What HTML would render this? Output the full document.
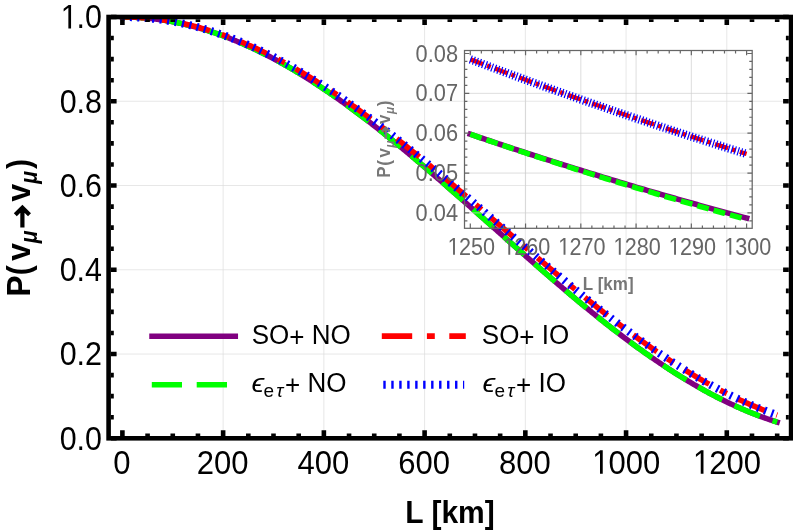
<!DOCTYPE html>
<html><head><meta charset="utf-8"><title>plot</title>
<style>html,body{margin:0;padding:0;background:#fff}svg{display:block;will-change:transform}text{font-family:"Liberation Sans",sans-serif}</style></head>
<body>
<svg width="793" height="531" viewBox="0 0 793 531">
<rect width="793" height="531" fill="#fff"/>
<defs><clipPath id="cm"><rect x="108.60" y="17.00" width="682.50" height="421.30"/></clipPath><clipPath id="ci"><rect x="464.50" y="50.50" width="287.70" height="177.80"/></clipPath></defs>
<path d="M223.13 17.00 V438.30 M323.87 17.00 V438.30 M424.60 17.00 V438.30 M525.34 17.00 V438.30 M626.07 17.00 V438.30 M726.80 17.00 V438.30 M108.60 354.04 H791.10 M108.60 269.78 H791.10 M108.60 185.52 H791.10 M108.60 101.26 H791.10" stroke="#dddddd" stroke-width="0.7" fill="none"/>
<g clip-path="url(#cm)" fill="none">
<path d="M122.40 17.00 L123.41 17.00 L124.41 17.01 L125.42 17.02 L126.43 17.03 L127.44 17.05 L128.44 17.07 L129.45 17.09 L130.46 17.12 L131.47 17.16 L132.47 17.19 L133.48 17.23 L134.49 17.28 L135.50 17.32 L136.50 17.38 L137.51 17.43 L138.52 17.49 L139.52 17.55 L140.53 17.62 L141.54 17.69 L142.55 17.77 L143.55 17.84 L144.56 17.93 L145.57 18.01 L146.58 18.10 L147.58 18.20 L148.59 18.29 L149.60 18.40 L150.61 18.50 L151.61 18.61 L152.62 18.72 L153.63 18.84 L154.63 18.96 L155.64 19.08 L156.65 19.21 L157.66 19.34 L158.66 19.48 L159.67 19.62 L160.68 19.76 L161.69 19.91 L162.69 20.06 L163.70 20.21 L164.71 20.37 L165.72 20.53 L166.72 20.70 L167.73 20.87 L168.74 21.04 L169.74 21.22 L170.75 21.40 L171.76 21.58 L172.77 21.77 L173.77 21.96 L174.78 22.16 L175.79 22.36 L176.80 22.56 L177.80 22.77 L178.81 22.98 L179.82 23.20 L180.83 23.41 L181.83 23.64 L182.84 23.86 L183.85 24.09 L184.86 24.32 L185.86 24.56 L186.87 24.80 L187.88 25.04 L188.88 25.29 L189.89 25.54 L190.90 25.80 L191.91 26.06 L192.91 26.32 L193.92 26.59 L194.93 26.86 L195.94 27.13 L196.94 27.41 L197.95 27.69 L198.96 27.97 L199.97 28.26 L200.97 28.55 L201.98 28.85 L202.99 29.15 L203.99 29.45 L205.00 29.75 L206.01 30.06 L207.02 30.38 L208.02 30.69 L209.03 31.01 L210.04 31.34 L211.05 31.67 L212.05 32.00 L213.06 32.33 L214.07 32.67 L215.08 33.01 L216.08 33.36 L217.09 33.71 L218.10 34.06 L219.10 34.41 L220.11 34.77 L221.12 35.14 L222.13 35.50 L223.13 35.87 L224.14 36.25 L225.15 36.62 L226.16 37.00 L227.16 37.39 L228.17 37.78 L229.18 38.17 L230.19 38.56 L231.19 38.96 L232.20 39.36 L233.21 39.76 L234.21 40.17 L235.22 40.58 L236.23 41.00 L237.24 41.42 L238.24 41.84 L239.25 42.26 L240.26 42.69 L241.27 43.12 L242.27 43.56 L243.28 44.00 L244.29 44.44 L245.30 44.88 L246.30 45.33 L247.31 45.78 L248.32 46.24 L249.32 46.70 L250.33 47.16 L251.34 47.62 L252.35 48.09 L253.35 48.56 L254.36 49.04 L255.37 49.51 L256.38 49.99 L257.38 50.48 L258.39 50.97 L259.40 51.46 L260.41 51.95 L261.41 52.45 L262.42 52.95 L263.43 53.45 L264.43 53.96 L265.44 54.47 L266.45 54.98 L267.46 55.50 L268.46 56.02 L269.47 56.54 L270.48 57.06 L271.49 57.59 L272.49 58.12 L273.50 58.66 L274.51 59.20 L275.52 59.74 L276.52 60.28 L277.53 60.83 L278.54 61.38 L279.55 61.93 L280.55 62.49 L281.56 63.05 L282.57 63.61 L283.57 64.17 L284.58 64.74 L285.59 65.31 L286.60 65.89 L287.60 66.46 L288.61 67.04 L289.62 67.63 L290.63 68.21 L291.63 68.80 L292.64 69.39 L293.65 69.98 L294.66 70.58 L295.66 71.18 L296.67 71.78 L297.68 72.39 L298.68 73.00 L299.69 73.61 L300.70 74.22 L301.71 74.84 L302.71 75.46 L303.72 76.08 L304.73 76.71 L305.74 77.34 L306.74 77.97 L307.75 78.60 L308.76 79.23 L309.77 79.87 L310.77 80.51 L311.78 81.16 L312.79 81.81 L313.79 82.45 L314.80 83.11 L315.81 83.76 L316.82 84.42 L317.82 85.08 L318.83 85.74 L319.84 86.41 L320.85 87.07 L321.85 87.74 L322.86 88.42 L323.87 89.09 L324.88 89.77 L325.88 90.45 L326.89 91.13 L327.90 91.82 L328.90 92.50 L329.91 93.19 L330.92 93.89 L331.93 94.58 L332.93 95.28 L333.94 95.98 L334.95 96.68 L335.96 97.38 L336.96 98.09 L337.97 98.80 L338.98 99.51 L339.99 100.22 L340.99 100.94 L342.00 101.66 L343.01 102.38 L344.01 103.10 L345.02 103.83 L346.03 104.56 L347.04 105.28 L348.04 106.02 L349.05 106.75 L350.06 107.49 L351.07 108.23 L352.07 108.97 L353.08 109.71 L354.09 110.45 L355.10 111.20 L356.10 111.95 L357.11 112.70 L358.12 113.45 L359.12 114.21 L360.13 114.97 L361.14 115.73 L362.15 116.49 L363.15 117.25 L364.16 118.02 L365.17 118.78 L366.18 119.55 L367.18 120.33 L368.19 121.10 L369.20 121.87 L370.21 122.65 L371.21 123.43 L372.22 124.21 L373.23 124.99 L374.24 125.78 L375.24 126.56 L376.25 127.35 L377.26 128.14 L378.26 128.93 L379.27 129.73 L380.28 130.52 L381.29 131.32 L382.29 132.12 L383.30 132.92 L384.31 133.72 L385.32 134.53 L386.32 135.33 L387.33 136.14 L388.34 136.95 L389.35 137.76 L390.35 138.57 L391.36 139.39 L392.37 140.20 L393.37 141.02 L394.38 141.84 L395.39 142.66 L396.40 143.48 L397.40 144.30 L398.41 145.13 L399.42 145.95 L400.43 146.78 L401.43 147.61 L402.44 148.44 L403.45 149.27 L404.46 150.11 L405.46 150.94 L406.47 151.78 L407.48 152.62 L408.48 153.46 L409.49 154.30 L410.50 155.14 L411.51 155.98 L412.51 156.82 L413.52 157.67 L414.53 158.52 L415.54 159.36 L416.54 160.21 L417.55 161.06 L418.56 161.92 L419.57 162.77 L420.57 163.62 L421.58 164.48 L422.59 165.33 L423.59 166.19 L424.60 167.05 L425.61 167.91 L426.62 168.77 L427.62 169.63 L428.63 170.49 L429.64 171.36 L430.65 172.22 L431.65 173.09 L432.66 173.95 L433.67 174.82 L434.68 175.69 L435.68 176.56 L436.69 177.43 L437.70 178.30 L438.70 179.17 L439.71 180.05 L440.72 180.92 L441.73 181.80 L442.73 182.67 L443.74 183.55 L444.75 184.42 L445.76 185.30 L446.76 186.18 L447.77 187.06 L448.78 187.94 L449.79 188.82 L450.79 189.70 L451.80 190.58 L452.81 191.47 L453.81 192.35 L454.82 193.23 L455.83 194.12 L456.84 195.00 L457.84 195.89 L458.85 196.78 L459.86 197.66 L460.87 198.55 L461.87 199.44 L462.88 200.33 L463.89 201.22 L464.90 202.11 L465.90 203.00 L466.91 203.89 L467.92 204.78 L468.92 205.67 L469.93 206.56 L470.94 207.45 L471.95 208.34 L472.95 209.23 L473.96 210.13 L474.97 211.02 L475.98 211.91 L476.98 212.81 L477.99 213.70 L479.00 214.60 L480.01 215.49 L481.01 216.38 L482.02 217.28 L483.03 218.17 L484.04 219.07 L485.04 219.96 L486.05 220.86 L487.06 221.75 L488.06 222.65 L489.07 223.54 L490.08 224.44 L491.09 225.34 L492.09 226.23 L493.10 227.13 L494.11 228.02 L495.12 228.92 L496.12 229.81 L497.13 230.71 L498.14 231.60 L499.15 232.50 L500.15 233.39 L501.16 234.29 L502.17 235.18 L503.17 236.08 L504.18 236.97 L505.19 237.87 L506.20 238.76 L507.20 239.65 L508.21 240.55 L509.22 241.44 L510.23 242.33 L511.23 243.23 L512.24 244.12 L513.25 245.01 L514.26 245.90 L515.26 246.80 L516.27 247.69 L517.28 248.58 L518.28 249.47 L519.29 250.36 L520.30 251.25 L521.31 252.14 L522.31 253.02 L523.32 253.91 L524.33 254.80 L525.34 255.69 L526.34 256.57 L527.35 257.46 L528.36 258.34 L529.37 259.23 L530.37 260.11 L531.38 261.00 L532.39 261.88 L533.39 262.76 L534.40 263.64 L535.41 264.52 L536.42 265.40 L537.42 266.28 L538.43 267.16 L539.44 268.04 L540.45 268.92 L541.45 269.79 L542.46 270.67 L543.47 271.54 L544.48 272.42 L545.48 273.29 L546.49 274.16 L547.50 275.03 L548.50 275.90 L549.51 276.77 L550.52 277.64 L551.53 278.51 L552.53 279.38 L553.54 280.24 L554.55 281.11 L555.56 281.97 L556.56 282.83 L557.57 283.69 L558.58 284.55 L559.59 285.41 L560.59 286.27 L561.60 287.13 L562.61 287.99 L563.61 288.84 L564.62 289.69 L565.63 290.55 L566.64 291.40 L567.64 292.25 L568.65 293.10 L569.66 293.95 L570.67 294.79 L571.67 295.64 L572.68 296.48 L573.69 297.33 L574.70 298.17 L575.70 299.01 L576.71 299.85 L577.72 300.68 L578.73 301.52 L579.73 302.36 L580.74 303.19 L581.75 304.02 L582.75 304.85 L583.76 305.68 L584.77 306.51 L585.78 307.34 L586.78 308.16 L587.79 308.98 L588.80 309.80 L589.81 310.63 L590.81 311.44 L591.82 312.26 L592.83 313.08 L593.84 313.89 L594.84 314.70 L595.85 315.51 L596.86 316.32 L597.86 317.13 L598.87 317.94 L599.88 318.74 L600.89 319.54 L601.89 320.34 L602.90 321.14 L603.91 321.94 L604.92 322.74 L605.92 323.53 L606.93 324.32 L607.94 325.11 L608.95 325.90 L609.95 326.69 L610.96 327.47 L611.97 328.25 L612.97 329.03 L613.98 329.81 L614.99 330.59 L616.00 331.37 L617.00 332.14 L618.01 332.91 L619.02 333.68 L620.03 334.45 L621.03 335.21 L622.04 335.98 L623.05 336.74 L624.06 337.50 L625.06 338.25 L626.07 339.01 L627.08 339.76 L628.08 340.51 L629.09 341.26 L630.10 342.01 L631.11 342.76 L632.11 343.50 L633.12 344.24 L634.13 344.98 L635.14 345.71 L636.14 346.45 L637.15 347.18 L638.16 347.91 L639.17 348.64 L640.17 349.36 L641.18 350.09 L642.19 350.81 L643.19 351.52 L644.20 352.24 L645.21 352.95 L646.22 353.67 L647.22 354.37 L648.23 355.08 L649.24 355.79 L650.25 356.49 L651.25 357.19 L652.26 357.89 L653.27 358.58 L654.28 359.27 L655.28 359.96 L656.29 360.65 L657.30 361.34 L658.30 362.02 L659.31 362.70 L660.32 363.38 L661.33 364.05 L662.33 364.72 L663.34 365.39 L664.35 366.06 L665.36 366.73 L666.36 367.39 L667.37 368.05 L668.38 368.71 L669.39 369.36 L670.39 370.01 L671.40 370.66 L672.41 371.31 L673.41 371.95 L674.42 372.59 L675.43 373.23 L676.44 373.87 L677.44 374.50 L678.45 375.13 L679.46 375.76 L680.47 376.38 L681.47 377.01 L682.48 377.63 L683.49 378.24 L684.50 378.86 L685.50 379.47 L686.51 380.08 L687.52 380.68 L688.53 381.29 L689.53 381.89 L690.54 382.48 L691.55 383.08 L692.55 383.67 L693.56 384.26 L694.57 384.84 L695.58 385.42 L696.58 386.00 L697.59 386.58 L698.60 387.15 L699.61 387.73 L700.61 388.29 L701.62 388.86 L702.63 389.42 L703.64 389.98 L704.64 390.54 L705.65 391.09 L706.66 391.64 L707.66 392.19 L708.67 392.73 L709.68 393.27 L710.69 393.81 L711.69 394.34 L712.70 394.88 L713.71 395.40 L714.72 395.93 L715.72 396.45 L716.73 396.97 L717.74 397.49 L718.75 398.00 L719.75 398.51 L720.76 399.02 L721.77 399.52 L722.77 400.02 L723.78 400.52 L724.79 401.01 L725.80 401.50 L726.80 401.99 L727.81 402.47 L728.82 402.96 L729.83 403.43 L730.83 403.91 L731.84 404.38 L732.85 404.85 L733.86 405.31 L734.86 405.77 L735.87 406.23 L736.88 406.69 L737.88 407.14 L738.89 407.59 L739.90 408.03 L740.91 408.47 L741.91 408.91 L742.92 409.35 L743.93 409.78 L744.94 410.21 L745.94 410.63 L746.95 411.05 L747.96 411.47 L748.97 411.89 L749.97 412.30 L750.98 412.71 L751.99 413.11 L752.99 413.51 L754.00 413.91 L755.01 414.30 L756.02 414.69 L757.02 415.08 L758.03 415.47 L759.04 415.85 L760.05 416.22 L761.05 416.60 L762.06 416.97 L763.07 417.33 L764.08 417.70 L765.08 418.06 L766.09 418.41 L767.10 418.76 L768.10 419.11 L769.11 419.46 L770.12 419.80 L771.13 420.14 L772.13 420.47 L773.14 420.81 L774.15 421.13 L775.16 421.46 L776.16 421.78 L777.17 422.09" stroke="#800080" stroke-width="5.5" stroke-linecap="square"/>
<path d="M122.40 17.00 L123.41 17.00 L124.41 17.01 L125.42 17.02 L126.43 17.03 L127.44 17.05 L128.44 17.07 L129.45 17.09 L130.46 17.12 L131.47 17.16 L132.47 17.19 L133.48 17.23 L134.49 17.28 L135.50 17.32 L136.50 17.38 L137.51 17.43 L138.52 17.49 L139.52 17.55 L140.53 17.62 L141.54 17.69 L142.55 17.77 L143.55 17.84 L144.56 17.93 L145.57 18.01 L146.58 18.10 L147.58 18.20 L148.59 18.29 L149.60 18.40 L150.61 18.50 L151.61 18.61 L152.62 18.72 L153.63 18.84 L154.63 18.96 L155.64 19.08 L156.65 19.21 L157.66 19.34 L158.66 19.48 L159.67 19.62 L160.68 19.76 L161.69 19.91 L162.69 20.06 L163.70 20.21 L164.71 20.37 L165.72 20.53 L166.72 20.70 L167.73 20.87 L168.74 21.04 L169.74 21.22 L170.75 21.40 L171.76 21.58 L172.77 21.77 L173.77 21.96 L174.78 22.16 L175.79 22.36 L176.80 22.56 L177.80 22.77 L178.81 22.98 L179.82 23.20 L180.83 23.41 L181.83 23.64 L182.84 23.86 L183.85 24.09 L184.86 24.32 L185.86 24.56 L186.87 24.80 L187.88 25.04 L188.88 25.29 L189.89 25.54 L190.90 25.80 L191.91 26.06 L192.91 26.32 L193.92 26.59 L194.93 26.86 L195.94 27.13 L196.94 27.41 L197.95 27.69 L198.96 27.97 L199.97 28.26 L200.97 28.55 L201.98 28.85 L202.99 29.15 L203.99 29.45 L205.00 29.75 L206.01 30.06 L207.02 30.38 L208.02 30.69 L209.03 31.01 L210.04 31.34 L211.05 31.67 L212.05 32.00 L213.06 32.33 L214.07 32.67 L215.08 33.01 L216.08 33.36 L217.09 33.71 L218.10 34.06 L219.10 34.41 L220.11 34.77 L221.12 35.14 L222.13 35.50 L223.13 35.87 L224.14 36.25 L225.15 36.62 L226.16 37.00 L227.16 37.39 L228.17 37.78 L229.18 38.17 L230.19 38.56 L231.19 38.96 L232.20 39.36 L233.21 39.76 L234.21 40.17 L235.22 40.58 L236.23 41.00 L237.24 41.42 L238.24 41.84 L239.25 42.26 L240.26 42.69 L241.27 43.12 L242.27 43.56 L243.28 44.00 L244.29 44.44 L245.30 44.88 L246.30 45.33 L247.31 45.78 L248.32 46.24 L249.32 46.70 L250.33 47.16 L251.34 47.62 L252.35 48.09 L253.35 48.56 L254.36 49.04 L255.37 49.51 L256.38 49.99 L257.38 50.48 L258.39 50.97 L259.40 51.46 L260.41 51.95 L261.41 52.45 L262.42 52.95 L263.43 53.45 L264.43 53.96 L265.44 54.47 L266.45 54.98 L267.46 55.50 L268.46 56.02 L269.47 56.54 L270.48 57.06 L271.49 57.59 L272.49 58.12 L273.50 58.66 L274.51 59.20 L275.52 59.74 L276.52 60.28 L277.53 60.83 L278.54 61.38 L279.55 61.93 L280.55 62.49 L281.56 63.05 L282.57 63.61 L283.57 64.17 L284.58 64.74 L285.59 65.31 L286.60 65.89 L287.60 66.46 L288.61 67.04 L289.62 67.63 L290.63 68.21 L291.63 68.80 L292.64 69.39 L293.65 69.98 L294.66 70.58 L295.66 71.18 L296.67 71.78 L297.68 72.39 L298.68 73.00 L299.69 73.61 L300.70 74.22 L301.71 74.84 L302.71 75.46 L303.72 76.08 L304.73 76.71 L305.74 77.34 L306.74 77.97 L307.75 78.60 L308.76 79.23 L309.77 79.87 L310.77 80.51 L311.78 81.16 L312.79 81.81 L313.79 82.45 L314.80 83.11 L315.81 83.76 L316.82 84.42 L317.82 85.08 L318.83 85.74 L319.84 86.41 L320.85 87.07 L321.85 87.74 L322.86 88.42 L323.87 89.09 L324.88 89.77 L325.88 90.45 L326.89 91.13 L327.90 91.82 L328.90 92.50 L329.91 93.19 L330.92 93.89 L331.93 94.58 L332.93 95.28 L333.94 95.98 L334.95 96.68 L335.96 97.38 L336.96 98.09 L337.97 98.80 L338.98 99.51 L339.99 100.22 L340.99 100.94 L342.00 101.66 L343.01 102.38 L344.01 103.10 L345.02 103.83 L346.03 104.56 L347.04 105.28 L348.04 106.02 L349.05 106.75 L350.06 107.49 L351.07 108.23 L352.07 108.97 L353.08 109.71 L354.09 110.45 L355.10 111.20 L356.10 111.95 L357.11 112.70 L358.12 113.45 L359.12 114.21 L360.13 114.97 L361.14 115.73 L362.15 116.49 L363.15 117.25 L364.16 118.02 L365.17 118.78 L366.18 119.55 L367.18 120.33 L368.19 121.10 L369.20 121.87 L370.21 122.65 L371.21 123.43 L372.22 124.21 L373.23 124.99 L374.24 125.78 L375.24 126.56 L376.25 127.35 L377.26 128.14 L378.26 128.93 L379.27 129.73 L380.28 130.52 L381.29 131.32 L382.29 132.12 L383.30 132.92 L384.31 133.72 L385.32 134.53 L386.32 135.33 L387.33 136.14 L388.34 136.95 L389.35 137.76 L390.35 138.57 L391.36 139.39 L392.37 140.20 L393.37 141.02 L394.38 141.84 L395.39 142.66 L396.40 143.48 L397.40 144.30 L398.41 145.13 L399.42 145.95 L400.43 146.78 L401.43 147.61 L402.44 148.44 L403.45 149.27 L404.46 150.11 L405.46 150.94 L406.47 151.78 L407.48 152.62 L408.48 153.46 L409.49 154.30 L410.50 155.14 L411.51 155.98 L412.51 156.82 L413.52 157.67 L414.53 158.52 L415.54 159.36 L416.54 160.21 L417.55 161.06 L418.56 161.92 L419.57 162.77 L420.57 163.62 L421.58 164.48 L422.59 165.33 L423.59 166.19 L424.60 167.05 L425.61 167.91 L426.62 168.77 L427.62 169.63 L428.63 170.49 L429.64 171.36 L430.65 172.22 L431.65 173.09 L432.66 173.95 L433.67 174.82 L434.68 175.69 L435.68 176.56 L436.69 177.43 L437.70 178.30 L438.70 179.17 L439.71 180.05 L440.72 180.92 L441.73 181.80 L442.73 182.67 L443.74 183.55 L444.75 184.42 L445.76 185.30 L446.76 186.18 L447.77 187.06 L448.78 187.94 L449.79 188.82 L450.79 189.70 L451.80 190.58 L452.81 191.47 L453.81 192.35 L454.82 193.23 L455.83 194.12 L456.84 195.00 L457.84 195.89 L458.85 196.78 L459.86 197.66 L460.87 198.55 L461.87 199.44 L462.88 200.33 L463.89 201.22 L464.90 202.11 L465.90 203.00 L466.91 203.89 L467.92 204.78 L468.92 205.67 L469.93 206.56 L470.94 207.45 L471.95 208.34 L472.95 209.23 L473.96 210.13 L474.97 211.02 L475.98 211.91 L476.98 212.81 L477.99 213.70 L479.00 214.60 L480.01 215.49 L481.01 216.38 L482.02 217.28 L483.03 218.17 L484.04 219.07 L485.04 219.96 L486.05 220.86 L487.06 221.75 L488.06 222.65 L489.07 223.54 L490.08 224.44 L491.09 225.34 L492.09 226.23 L493.10 227.13 L494.11 228.02 L495.12 228.92 L496.12 229.81 L497.13 230.71 L498.14 231.60 L499.15 232.50 L500.15 233.39 L501.16 234.29 L502.17 235.18 L503.17 236.08 L504.18 236.97 L505.19 237.87 L506.20 238.76 L507.20 239.65 L508.21 240.55 L509.22 241.44 L510.23 242.33 L511.23 243.23 L512.24 244.12 L513.25 245.01 L514.26 245.90 L515.26 246.80 L516.27 247.69 L517.28 248.58 L518.28 249.47 L519.29 250.36 L520.30 251.25 L521.31 252.14 L522.31 253.02 L523.32 253.91 L524.33 254.80 L525.34 255.69 L526.34 256.57 L527.35 257.46 L528.36 258.34 L529.37 259.23 L530.37 260.11 L531.38 261.00 L532.39 261.88 L533.39 262.76 L534.40 263.64 L535.41 264.52 L536.42 265.40 L537.42 266.28 L538.43 267.16 L539.44 268.04 L540.45 268.92 L541.45 269.79 L542.46 270.67 L543.47 271.54 L544.48 272.42 L545.48 273.29 L546.49 274.16 L547.50 275.03 L548.50 275.90 L549.51 276.77 L550.52 277.64 L551.53 278.51 L552.53 279.38 L553.54 280.24 L554.55 281.11 L555.56 281.97 L556.56 282.83 L557.57 283.69 L558.58 284.55 L559.59 285.41 L560.59 286.27 L561.60 287.13 L562.61 287.99 L563.61 288.84 L564.62 289.69 L565.63 290.55 L566.64 291.40 L567.64 292.25 L568.65 293.10 L569.66 293.95 L570.67 294.79 L571.67 295.64 L572.68 296.48 L573.69 297.33 L574.70 298.17 L575.70 299.01 L576.71 299.85 L577.72 300.68 L578.73 301.52 L579.73 302.36 L580.74 303.19 L581.75 304.02 L582.75 304.85 L583.76 305.68 L584.77 306.51 L585.78 307.34 L586.78 308.16 L587.79 308.98 L588.80 309.80 L589.81 310.63 L590.81 311.44 L591.82 312.26 L592.83 313.08 L593.84 313.89 L594.84 314.70 L595.85 315.51 L596.86 316.32 L597.86 317.13 L598.87 317.94 L599.88 318.74 L600.89 319.54 L601.89 320.34 L602.90 321.14 L603.91 321.94 L604.92 322.74 L605.92 323.53 L606.93 324.32 L607.94 325.11 L608.95 325.90 L609.95 326.69 L610.96 327.47 L611.97 328.25 L612.97 329.03 L613.98 329.81 L614.99 330.59 L616.00 331.37 L617.00 332.14 L618.01 332.91 L619.02 333.68 L620.03 334.45 L621.03 335.21 L622.04 335.98 L623.05 336.74 L624.06 337.50 L625.06 338.25 L626.07 339.01 L627.08 339.76 L628.08 340.51 L629.09 341.26 L630.10 342.01 L631.11 342.76 L632.11 343.50 L633.12 344.24 L634.13 344.98 L635.14 345.71 L636.14 346.45 L637.15 347.18 L638.16 347.91 L639.17 348.64 L640.17 349.36 L641.18 350.09 L642.19 350.81 L643.19 351.52 L644.20 352.24 L645.21 352.95 L646.22 353.67 L647.22 354.37 L648.23 355.08 L649.24 355.79 L650.25 356.49 L651.25 357.19 L652.26 357.89 L653.27 358.58 L654.28 359.27 L655.28 359.96 L656.29 360.65 L657.30 361.34 L658.30 362.02 L659.31 362.70 L660.32 363.38 L661.33 364.05 L662.33 364.72 L663.34 365.39 L664.35 366.06 L665.36 366.73 L666.36 367.39 L667.37 368.05 L668.38 368.71 L669.39 369.36 L670.39 370.01 L671.40 370.66 L672.41 371.31 L673.41 371.95 L674.42 372.59 L675.43 373.23 L676.44 373.87 L677.44 374.50 L678.45 375.13 L679.46 375.76 L680.47 376.38 L681.47 377.01 L682.48 377.63 L683.49 378.24 L684.50 378.86 L685.50 379.47 L686.51 380.08 L687.52 380.68 L688.53 381.29 L689.53 381.89 L690.54 382.48 L691.55 383.08 L692.55 383.67 L693.56 384.26 L694.57 384.84 L695.58 385.42 L696.58 386.00 L697.59 386.58 L698.60 387.15 L699.61 387.73 L700.61 388.29 L701.62 388.86 L702.63 389.42 L703.64 389.98 L704.64 390.54 L705.65 391.09 L706.66 391.64 L707.66 392.19 L708.67 392.73 L709.68 393.27 L710.69 393.81 L711.69 394.34 L712.70 394.88 L713.71 395.40 L714.72 395.93 L715.72 396.45 L716.73 396.97 L717.74 397.49 L718.75 398.00 L719.75 398.51 L720.76 399.02 L721.77 399.52 L722.77 400.02 L723.78 400.52 L724.79 401.01 L725.80 401.50 L726.80 401.99 L727.81 402.47 L728.82 402.96 L729.83 403.43 L730.83 403.91 L731.84 404.38 L732.85 404.85 L733.86 405.31 L734.86 405.77 L735.87 406.23 L736.88 406.69 L737.88 407.14 L738.89 407.59 L739.90 408.03 L740.91 408.47 L741.91 408.91 L742.92 409.35 L743.93 409.78 L744.94 410.21 L745.94 410.63 L746.95 411.05 L747.96 411.47 L748.97 411.89 L749.97 412.30 L750.98 412.71 L751.99 413.11 L752.99 413.51 L754.00 413.91 L755.01 414.30 L756.02 414.69 L757.02 415.08 L758.03 415.47 L759.04 415.85 L760.05 416.22 L761.05 416.60 L762.06 416.97 L763.07 417.33 L764.08 417.70 L765.08 418.06 L766.09 418.41 L767.10 418.76 L768.10 419.11 L769.11 419.46 L770.12 419.80 L771.13 420.14 L772.13 420.47 L773.14 420.81 L774.15 421.13 L775.16 421.46 L776.16 421.78 L777.17 422.09" stroke="#00ff00" stroke-width="5.5" stroke-dasharray="27.5 13.5" stroke-dashoffset="0.9"/>
<path d="M122.40 17.00 L123.41 17.00 L124.41 17.01 L125.42 17.02 L126.43 17.03 L127.44 17.05 L128.44 17.07 L129.45 17.09 L130.46 17.12 L131.47 17.15 L132.47 17.18 L133.48 17.22 L134.49 17.26 L135.50 17.31 L136.50 17.36 L137.51 17.41 L138.52 17.47 L139.52 17.53 L140.53 17.59 L141.54 17.66 L142.55 17.73 L143.55 17.81 L144.56 17.89 L145.57 17.97 L146.58 18.05 L147.58 18.14 L148.59 18.24 L149.60 18.33 L150.61 18.43 L151.61 18.54 L152.62 18.65 L153.63 18.76 L154.63 18.87 L155.64 18.99 L156.65 19.11 L157.66 19.24 L158.66 19.37 L159.67 19.50 L160.68 19.64 L161.69 19.78 L162.69 19.92 L163.70 20.07 L164.71 20.22 L165.72 20.38 L166.72 20.54 L167.73 20.70 L168.74 20.86 L169.74 21.03 L170.75 21.21 L171.76 21.38 L172.77 21.56 L173.77 21.75 L174.78 21.93 L175.79 22.12 L176.80 22.32 L177.80 22.52 L178.81 22.72 L179.82 22.92 L180.83 23.13 L181.83 23.34 L182.84 23.56 L183.85 23.78 L184.86 24.00 L185.86 24.23 L186.87 24.46 L187.88 24.69 L188.88 24.93 L189.89 25.17 L190.90 25.41 L191.91 25.66 L192.91 25.91 L193.92 26.17 L194.93 26.42 L195.94 26.69 L196.94 26.95 L197.95 27.22 L198.96 27.49 L199.97 27.77 L200.97 28.05 L201.98 28.33 L202.99 28.61 L203.99 28.90 L205.00 29.20 L206.01 29.49 L207.02 29.79 L208.02 30.10 L209.03 30.40 L210.04 30.71 L211.05 31.03 L212.05 31.34 L213.06 31.66 L214.07 31.99 L215.08 32.31 L216.08 32.64 L217.09 32.98 L218.10 33.31 L219.10 33.66 L220.11 34.00 L221.12 34.35 L222.13 34.70 L223.13 35.05 L224.14 35.41 L225.15 35.77 L226.16 36.13 L227.16 36.50 L228.17 36.87 L229.18 37.25 L230.19 37.62 L231.19 38.00 L232.20 38.39 L233.21 38.77 L234.21 39.17 L235.22 39.56 L236.23 39.96 L237.24 40.36 L238.24 40.76 L239.25 41.17 L240.26 41.58 L241.27 41.99 L242.27 42.41 L243.28 42.83 L244.29 43.25 L245.30 43.67 L246.30 44.10 L247.31 44.54 L248.32 44.97 L249.32 45.41 L250.33 45.85 L251.34 46.30 L252.35 46.75 L253.35 47.20 L254.36 47.65 L255.37 48.11 L256.38 48.57 L257.38 49.03 L258.39 49.50 L259.40 49.97 L260.41 50.45 L261.41 50.92 L262.42 51.40 L263.43 51.88 L264.43 52.37 L265.44 52.86 L266.45 53.35 L267.46 53.84 L268.46 54.34 L269.47 54.84 L270.48 55.34 L271.49 55.85 L272.49 56.36 L273.50 56.87 L274.51 57.39 L275.52 57.91 L276.52 58.43 L277.53 58.95 L278.54 59.48 L279.55 60.01 L280.55 60.54 L281.56 61.08 L282.57 61.62 L283.57 62.16 L284.58 62.70 L285.59 63.25 L286.60 63.80 L287.60 64.35 L288.61 64.91 L289.62 65.47 L290.63 66.03 L291.63 66.59 L292.64 67.16 L293.65 67.73 L294.66 68.30 L295.66 68.88 L296.67 69.46 L297.68 70.04 L298.68 70.62 L299.69 71.21 L300.70 71.80 L301.71 72.39 L302.71 72.98 L303.72 73.58 L304.73 74.18 L305.74 74.78 L306.74 75.39 L307.75 76.00 L308.76 76.61 L309.77 77.22 L310.77 77.83 L311.78 78.45 L312.79 79.07 L313.79 79.70 L314.80 80.32 L315.81 80.95 L316.82 81.58 L317.82 82.22 L318.83 82.85 L319.84 83.49 L320.85 84.13 L321.85 84.77 L322.86 85.42 L323.87 86.07 L324.88 86.72 L325.88 87.37 L326.89 88.03 L327.90 88.69 L328.90 89.35 L329.91 90.01 L330.92 90.67 L331.93 91.34 L332.93 92.01 L333.94 92.68 L334.95 93.36 L335.96 94.04 L336.96 94.72 L337.97 95.40 L338.98 96.08 L339.99 96.77 L340.99 97.46 L342.00 98.15 L343.01 98.84 L344.01 99.53 L345.02 100.23 L346.03 100.93 L347.04 101.63 L348.04 102.34 L349.05 103.04 L350.06 103.75 L351.07 104.46 L352.07 105.17 L353.08 105.89 L354.09 106.60 L355.10 107.32 L356.10 108.04 L357.11 108.77 L358.12 109.49 L359.12 110.22 L360.13 110.95 L361.14 111.68 L362.15 112.41 L363.15 113.14 L364.16 113.88 L365.17 114.62 L366.18 115.36 L367.18 116.10 L368.19 116.85 L369.20 117.59 L370.21 118.34 L371.21 119.09 L372.22 119.85 L373.23 120.60 L374.24 121.35 L375.24 122.11 L376.25 122.87 L377.26 123.63 L378.26 124.40 L379.27 125.16 L380.28 125.93 L381.29 126.70 L382.29 127.47 L383.30 128.24 L384.31 129.01 L385.32 129.79 L386.32 130.56 L387.33 131.34 L388.34 132.12 L389.35 132.90 L390.35 133.69 L391.36 134.47 L392.37 135.26 L393.37 136.05 L394.38 136.84 L395.39 137.63 L396.40 138.42 L397.40 139.21 L398.41 140.01 L399.42 140.81 L400.43 141.61 L401.43 142.41 L402.44 143.21 L403.45 144.01 L404.46 144.81 L405.46 145.62 L406.47 146.43 L407.48 147.24 L408.48 148.05 L409.49 148.86 L410.50 149.67 L411.51 150.49 L412.51 151.30 L413.52 152.12 L414.53 152.94 L415.54 153.75 L416.54 154.58 L417.55 155.40 L418.56 156.22 L419.57 157.04 L420.57 157.87 L421.58 158.70 L422.59 159.52 L423.59 160.35 L424.60 161.18 L425.61 162.01 L426.62 162.85 L427.62 163.68 L428.63 164.51 L429.64 165.35 L430.65 166.19 L431.65 167.02 L432.66 167.86 L433.67 168.70 L434.68 169.54 L435.68 170.38 L436.69 171.23 L437.70 172.07 L438.70 172.91 L439.71 173.76 L440.72 174.60 L441.73 175.45 L442.73 176.30 L443.74 177.15 L444.75 178.00 L445.76 178.85 L446.76 179.70 L447.77 180.55 L448.78 181.40 L449.79 182.26 L450.79 183.11 L451.80 183.97 L452.81 184.82 L453.81 185.68 L454.82 186.54 L455.83 187.39 L456.84 188.25 L457.84 189.11 L458.85 189.97 L459.86 190.83 L460.87 191.69 L461.87 192.55 L462.88 193.42 L463.89 194.28 L464.90 195.14 L465.90 196.01 L466.91 196.87 L467.92 197.74 L468.92 198.60 L469.93 199.47 L470.94 200.33 L471.95 201.20 L472.95 202.07 L473.96 202.93 L474.97 203.80 L475.98 204.67 L476.98 205.54 L477.99 206.41 L479.00 207.28 L480.01 208.14 L481.01 209.01 L482.02 209.88 L483.03 210.75 L484.04 211.63 L485.04 212.50 L486.05 213.37 L487.06 214.24 L488.06 215.11 L489.07 215.98 L490.08 216.85 L491.09 217.72 L492.09 218.60 L493.10 219.47 L494.11 220.34 L495.12 221.21 L496.12 222.08 L497.13 222.96 L498.14 223.83 L499.15 224.70 L500.15 225.57 L501.16 226.45 L502.17 227.32 L503.17 228.19 L504.18 229.06 L505.19 229.94 L506.20 230.81 L507.20 231.68 L508.21 232.55 L509.22 233.42 L510.23 234.29 L511.23 235.17 L512.24 236.04 L513.25 236.91 L514.26 237.78 L515.26 238.65 L516.27 239.52 L517.28 240.39 L518.28 241.26 L519.29 242.13 L520.30 243.00 L521.31 243.87 L522.31 244.73 L523.32 245.60 L524.33 246.47 L525.34 247.34 L526.34 248.20 L527.35 249.07 L528.36 249.94 L529.37 250.80 L530.37 251.67 L531.38 252.53 L532.39 253.40 L533.39 254.26 L534.40 255.12 L535.41 255.99 L536.42 256.85 L537.42 257.71 L538.43 258.57 L539.44 259.43 L540.45 260.29 L541.45 261.15 L542.46 262.01 L543.47 262.87 L544.48 263.72 L545.48 264.58 L546.49 265.44 L547.50 266.29 L548.50 267.15 L549.51 268.00 L550.52 268.85 L551.53 269.70 L552.53 270.55 L553.54 271.41 L554.55 272.25 L555.56 273.10 L556.56 273.95 L557.57 274.80 L558.58 275.64 L559.59 276.49 L560.59 277.33 L561.60 278.18 L562.61 279.02 L563.61 279.86 L564.62 280.70 L565.63 281.54 L566.64 282.38 L567.64 283.22 L568.65 284.05 L569.66 284.89 L570.67 285.72 L571.67 286.56 L572.68 287.39 L573.69 288.22 L574.70 289.05 L575.70 289.88 L576.71 290.71 L577.72 291.53 L578.73 292.36 L579.73 293.18 L580.74 294.01 L581.75 294.83 L582.75 295.65 L583.76 296.47 L584.77 297.29 L585.78 298.10 L586.78 298.92 L587.79 299.73 L588.80 300.54 L589.81 301.36 L590.81 302.17 L591.82 302.97 L592.83 303.78 L593.84 304.59 L594.84 305.39 L595.85 306.20 L596.86 307.00 L597.86 307.80 L598.87 308.60 L599.88 309.39 L600.89 310.19 L601.89 310.98 L602.90 311.78 L603.91 312.57 L604.92 313.36 L605.92 314.15 L606.93 314.93 L607.94 315.72 L608.95 316.50 L609.95 317.28 L610.96 318.06 L611.97 318.84 L612.97 319.62 L613.98 320.39 L614.99 321.17 L616.00 321.94 L617.00 322.71 L618.01 323.48 L619.02 324.24 L620.03 325.01 L621.03 325.77 L622.04 326.53 L623.05 327.29 L624.06 328.05 L625.06 328.80 L626.07 329.56 L627.08 330.31 L628.08 331.06 L629.09 331.81 L630.10 332.56 L631.11 333.30 L632.11 334.04 L633.12 334.78 L634.13 335.52 L635.14 336.26 L636.14 336.99 L637.15 337.73 L638.16 338.46 L639.17 339.19 L640.17 339.91 L641.18 340.64 L642.19 341.36 L643.19 342.08 L644.20 342.80 L645.21 343.52 L646.22 344.23 L647.22 344.94 L648.23 345.65 L649.24 346.36 L650.25 347.07 L651.25 347.77 L652.26 348.47 L653.27 349.17 L654.28 349.87 L655.28 350.56 L656.29 351.26 L657.30 351.95 L658.30 352.64 L659.31 353.32 L660.32 354.01 L661.33 354.69 L662.33 355.37 L663.34 356.04 L664.35 356.72 L665.36 357.39 L666.36 358.06 L667.37 358.73 L668.38 359.39 L669.39 360.06 L670.39 360.72 L671.40 361.37 L672.41 362.03 L673.41 362.68 L674.42 363.33 L675.43 363.98 L676.44 364.63 L677.44 365.27 L678.45 365.91 L679.46 366.55 L680.47 367.19 L681.47 367.82 L682.48 368.45 L683.49 369.08 L684.50 369.71 L685.50 370.33 L686.51 370.95 L687.52 371.57 L688.53 372.18 L689.53 372.80 L690.54 373.41 L691.55 374.01 L692.55 374.62 L693.56 375.22 L694.57 375.82 L695.58 376.42 L696.58 377.01 L697.59 377.61 L698.60 378.19 L699.61 378.78 L700.61 379.36 L701.62 379.95 L702.63 380.52 L703.64 381.10 L704.64 381.67 L705.65 382.24 L706.66 382.81 L707.66 383.37 L708.67 383.93 L709.68 384.49 L710.69 385.05 L711.69 385.60 L712.70 386.15 L713.71 386.70 L714.72 387.24 L715.72 387.79 L716.73 388.32 L717.74 388.86 L718.75 389.39 L719.75 389.92 L720.76 390.45 L721.77 390.97 L722.77 391.50 L723.78 392.01 L724.79 392.53 L725.80 393.04 L726.80 393.55 L727.81 394.06 L728.82 394.56 L729.83 395.06 L730.83 395.56 L731.84 396.05 L732.85 396.55 L733.86 397.03 L734.86 397.52 L735.87 398.00 L736.88 398.48 L737.88 398.96 L738.89 399.43 L739.90 399.90 L740.91 400.37 L741.91 400.83 L742.92 401.29 L743.93 401.75 L744.94 402.20 L745.94 402.66 L746.95 403.10 L747.96 403.55 L748.97 403.99 L749.97 404.43 L750.98 404.87 L751.99 405.30 L752.99 405.73 L754.00 406.15 L755.01 406.58 L756.02 407.00 L757.02 407.41 L758.03 407.83 L759.04 408.24 L760.05 408.64 L761.05 409.05 L762.06 409.45 L763.07 409.84 L764.08 410.24 L765.08 410.63 L766.09 411.01 L767.10 411.40 L768.10 411.78 L769.11 412.16 L770.12 412.53 L771.13 412.90 L772.13 413.27 L773.14 413.63 L774.15 413.99 L775.16 414.35 L776.16 414.70 L777.17 415.06" stroke="#ff0000" stroke-width="5.5" stroke-dasharray="29 12.5 7.5 12.5" stroke-dashoffset="1.6"/>
<path d="M122.40 17.00 L123.41 17.00 L124.41 17.01 L125.42 17.02 L126.43 17.03 L127.44 17.05 L128.44 17.07 L129.45 17.09 L130.46 17.12 L131.47 17.15 L132.47 17.18 L133.48 17.22 L134.49 17.26 L135.50 17.31 L136.50 17.36 L137.51 17.41 L138.52 17.47 L139.52 17.53 L140.53 17.59 L141.54 17.66 L142.55 17.73 L143.55 17.81 L144.56 17.89 L145.57 17.97 L146.58 18.05 L147.58 18.14 L148.59 18.24 L149.60 18.33 L150.61 18.43 L151.61 18.54 L152.62 18.65 L153.63 18.76 L154.63 18.87 L155.64 18.99 L156.65 19.11 L157.66 19.24 L158.66 19.37 L159.67 19.50 L160.68 19.64 L161.69 19.78 L162.69 19.92 L163.70 20.07 L164.71 20.22 L165.72 20.38 L166.72 20.54 L167.73 20.70 L168.74 20.86 L169.74 21.03 L170.75 21.21 L171.76 21.38 L172.77 21.56 L173.77 21.75 L174.78 21.93 L175.79 22.12 L176.80 22.32 L177.80 22.52 L178.81 22.72 L179.82 22.92 L180.83 23.13 L181.83 23.34 L182.84 23.56 L183.85 23.78 L184.86 24.00 L185.86 24.23 L186.87 24.46 L187.88 24.69 L188.88 24.93 L189.89 25.17 L190.90 25.41 L191.91 25.66 L192.91 25.91 L193.92 26.17 L194.93 26.42 L195.94 26.69 L196.94 26.95 L197.95 27.22 L198.96 27.49 L199.97 27.77 L200.97 28.05 L201.98 28.33 L202.99 28.61 L203.99 28.90 L205.00 29.20 L206.01 29.49 L207.02 29.79 L208.02 30.10 L209.03 30.40 L210.04 30.71 L211.05 31.03 L212.05 31.34 L213.06 31.66 L214.07 31.99 L215.08 32.31 L216.08 32.64 L217.09 32.98 L218.10 33.31 L219.10 33.66 L220.11 34.00 L221.12 34.35 L222.13 34.70 L223.13 35.05 L224.14 35.41 L225.15 35.77 L226.16 36.13 L227.16 36.50 L228.17 36.87 L229.18 37.25 L230.19 37.62 L231.19 38.00 L232.20 38.39 L233.21 38.77 L234.21 39.17 L235.22 39.56 L236.23 39.96 L237.24 40.36 L238.24 40.76 L239.25 41.17 L240.26 41.58 L241.27 41.99 L242.27 42.41 L243.28 42.83 L244.29 43.25 L245.30 43.67 L246.30 44.10 L247.31 44.54 L248.32 44.97 L249.32 45.41 L250.33 45.85 L251.34 46.30 L252.35 46.75 L253.35 47.20 L254.36 47.65 L255.37 48.11 L256.38 48.57 L257.38 49.03 L258.39 49.50 L259.40 49.97 L260.41 50.45 L261.41 50.92 L262.42 51.40 L263.43 51.88 L264.43 52.37 L265.44 52.86 L266.45 53.35 L267.46 53.84 L268.46 54.34 L269.47 54.84 L270.48 55.34 L271.49 55.85 L272.49 56.36 L273.50 56.87 L274.51 57.39 L275.52 57.91 L276.52 58.43 L277.53 58.95 L278.54 59.48 L279.55 60.01 L280.55 60.54 L281.56 61.08 L282.57 61.62 L283.57 62.16 L284.58 62.70 L285.59 63.25 L286.60 63.80 L287.60 64.35 L288.61 64.91 L289.62 65.47 L290.63 66.03 L291.63 66.59 L292.64 67.16 L293.65 67.73 L294.66 68.30 L295.66 68.88 L296.67 69.46 L297.68 70.04 L298.68 70.62 L299.69 71.21 L300.70 71.80 L301.71 72.39 L302.71 72.98 L303.72 73.58 L304.73 74.18 L305.74 74.78 L306.74 75.39 L307.75 76.00 L308.76 76.61 L309.77 77.22 L310.77 77.83 L311.78 78.45 L312.79 79.07 L313.79 79.70 L314.80 80.32 L315.81 80.95 L316.82 81.58 L317.82 82.22 L318.83 82.85 L319.84 83.49 L320.85 84.13 L321.85 84.77 L322.86 85.42 L323.87 86.07 L324.88 86.72 L325.88 87.37 L326.89 88.03 L327.90 88.69 L328.90 89.35 L329.91 90.01 L330.92 90.67 L331.93 91.34 L332.93 92.01 L333.94 92.68 L334.95 93.36 L335.96 94.04 L336.96 94.72 L337.97 95.40 L338.98 96.08 L339.99 96.77 L340.99 97.46 L342.00 98.15 L343.01 98.84 L344.01 99.53 L345.02 100.23 L346.03 100.93 L347.04 101.63 L348.04 102.34 L349.05 103.04 L350.06 103.75 L351.07 104.46 L352.07 105.17 L353.08 105.89 L354.09 106.60 L355.10 107.32 L356.10 108.04 L357.11 108.77 L358.12 109.49 L359.12 110.22 L360.13 110.95 L361.14 111.68 L362.15 112.41 L363.15 113.14 L364.16 113.88 L365.17 114.62 L366.18 115.36 L367.18 116.10 L368.19 116.85 L369.20 117.59 L370.21 118.34 L371.21 119.09 L372.22 119.85 L373.23 120.60 L374.24 121.35 L375.24 122.11 L376.25 122.87 L377.26 123.63 L378.26 124.40 L379.27 125.16 L380.28 125.93 L381.29 126.70 L382.29 127.47 L383.30 128.24 L384.31 129.01 L385.32 129.79 L386.32 130.56 L387.33 131.34 L388.34 132.12 L389.35 132.90 L390.35 133.69 L391.36 134.47 L392.37 135.26 L393.37 136.05 L394.38 136.84 L395.39 137.63 L396.40 138.42 L397.40 139.21 L398.41 140.01 L399.42 140.81 L400.43 141.61 L401.43 142.41 L402.44 143.21 L403.45 144.01 L404.46 144.81 L405.46 145.62 L406.47 146.43 L407.48 147.24 L408.48 148.05 L409.49 148.86 L410.50 149.67 L411.51 150.49 L412.51 151.30 L413.52 152.12 L414.53 152.94 L415.54 153.75 L416.54 154.58 L417.55 155.40 L418.56 156.22 L419.57 157.04 L420.57 157.87 L421.58 158.70 L422.59 159.52 L423.59 160.35 L424.60 161.18 L425.61 162.01 L426.62 162.85 L427.62 163.68 L428.63 164.51 L429.64 165.35 L430.65 166.19 L431.65 167.02 L432.66 167.86 L433.67 168.70 L434.68 169.54 L435.68 170.38 L436.69 171.23 L437.70 172.07 L438.70 172.91 L439.71 173.76 L440.72 174.60 L441.73 175.45 L442.73 176.30 L443.74 177.15 L444.75 178.00 L445.76 178.85 L446.76 179.70 L447.77 180.55 L448.78 181.40 L449.79 182.26 L450.79 183.11 L451.80 183.97 L452.81 184.82 L453.81 185.68 L454.82 186.54 L455.83 187.39 L456.84 188.25 L457.84 189.11 L458.85 189.97 L459.86 190.83 L460.87 191.69 L461.87 192.55 L462.88 193.42 L463.89 194.28 L464.90 195.14 L465.90 196.01 L466.91 196.87 L467.92 197.74 L468.92 198.60 L469.93 199.47 L470.94 200.33 L471.95 201.20 L472.95 202.07 L473.96 202.93 L474.97 203.80 L475.98 204.67 L476.98 205.54 L477.99 206.41 L479.00 207.28 L480.01 208.14 L481.01 209.01 L482.02 209.88 L483.03 210.75 L484.04 211.63 L485.04 212.50 L486.05 213.37 L487.06 214.24 L488.06 215.11 L489.07 215.98 L490.08 216.85 L491.09 217.72 L492.09 218.60 L493.10 219.47 L494.11 220.34 L495.12 221.21 L496.12 222.08 L497.13 222.96 L498.14 223.83 L499.15 224.70 L500.15 225.57 L501.16 226.45 L502.17 227.32 L503.17 228.19 L504.18 229.06 L505.19 229.94 L506.20 230.81 L507.20 231.68 L508.21 232.55 L509.22 233.42 L510.23 234.29 L511.23 235.17 L512.24 236.04 L513.25 236.91 L514.26 237.78 L515.26 238.65 L516.27 239.52 L517.28 240.39 L518.28 241.26 L519.29 242.13 L520.30 243.00 L521.31 243.87 L522.31 244.73 L523.32 245.60 L524.33 246.47 L525.34 247.34 L526.34 248.20 L527.35 249.07 L528.36 249.94 L529.37 250.80 L530.37 251.67 L531.38 252.53 L532.39 253.40 L533.39 254.26 L534.40 255.12 L535.41 255.99 L536.42 256.85 L537.42 257.71 L538.43 258.57 L539.44 259.43 L540.45 260.29 L541.45 261.15 L542.46 262.01 L543.47 262.87 L544.48 263.72 L545.48 264.58 L546.49 265.44 L547.50 266.29 L548.50 267.15 L549.51 268.00 L550.52 268.85 L551.53 269.70 L552.53 270.55 L553.54 271.41 L554.55 272.25 L555.56 273.10 L556.56 273.95 L557.57 274.80 L558.58 275.64 L559.59 276.49 L560.59 277.33 L561.60 278.18 L562.61 279.02 L563.61 279.86 L564.62 280.70 L565.63 281.54 L566.64 282.38 L567.64 283.22 L568.65 284.05 L569.66 284.89 L570.67 285.72 L571.67 286.56 L572.68 287.39 L573.69 288.22 L574.70 289.05 L575.70 289.88 L576.71 290.71 L577.72 291.53 L578.73 292.36 L579.73 293.18 L580.74 294.01 L581.75 294.83 L582.75 295.65 L583.76 296.47 L584.77 297.29 L585.78 298.10 L586.78 298.92 L587.79 299.73 L588.80 300.54 L589.81 301.36 L590.81 302.17 L591.82 302.97 L592.83 303.78 L593.84 304.59 L594.84 305.39 L595.85 306.20 L596.86 307.00 L597.86 307.80 L598.87 308.60 L599.88 309.39 L600.89 310.19 L601.89 310.98 L602.90 311.78 L603.91 312.57 L604.92 313.36 L605.92 314.15 L606.93 314.93 L607.94 315.72 L608.95 316.50 L609.95 317.28 L610.96 318.06 L611.97 318.84 L612.97 319.62 L613.98 320.39 L614.99 321.17 L616.00 321.94 L617.00 322.71 L618.01 323.48 L619.02 324.24 L620.03 325.01 L621.03 325.77 L622.04 326.53 L623.05 327.29 L624.06 328.05 L625.06 328.80 L626.07 329.56 L627.08 330.31 L628.08 331.06 L629.09 331.81 L630.10 332.56 L631.11 333.30 L632.11 334.04 L633.12 334.78 L634.13 335.52 L635.14 336.26 L636.14 336.99 L637.15 337.73 L638.16 338.46 L639.17 339.19 L640.17 339.91 L641.18 340.64 L642.19 341.36 L643.19 342.08 L644.20 342.80 L645.21 343.52 L646.22 344.23 L647.22 344.94 L648.23 345.65 L649.24 346.36 L650.25 347.07 L651.25 347.77 L652.26 348.47 L653.27 349.17 L654.28 349.87 L655.28 350.56 L656.29 351.26 L657.30 351.95 L658.30 352.64 L659.31 353.32 L660.32 354.01 L661.33 354.69 L662.33 355.37 L663.34 356.04 L664.35 356.72 L665.36 357.39 L666.36 358.06 L667.37 358.73 L668.38 359.39 L669.39 360.06 L670.39 360.72 L671.40 361.37 L672.41 362.03 L673.41 362.68 L674.42 363.33 L675.43 363.98 L676.44 364.63 L677.44 365.27 L678.45 365.91 L679.46 366.55 L680.47 367.19 L681.47 367.82 L682.48 368.45 L683.49 369.08 L684.50 369.71 L685.50 370.33 L686.51 370.95 L687.52 371.57 L688.53 372.18 L689.53 372.80 L690.54 373.41 L691.55 374.01 L692.55 374.62 L693.56 375.22 L694.57 375.82 L695.58 376.42 L696.58 377.01 L697.59 377.61 L698.60 378.19 L699.61 378.78 L700.61 379.36 L701.62 379.95 L702.63 380.52 L703.64 381.10 L704.64 381.67 L705.65 382.24 L706.66 382.81 L707.66 383.37 L708.67 383.93 L709.68 384.49 L710.69 385.05 L711.69 385.60 L712.70 386.15 L713.71 386.70 L714.72 387.24 L715.72 387.79 L716.73 388.32 L717.74 388.86 L718.75 389.39 L719.75 389.92 L720.76 390.45 L721.77 390.97 L722.77 391.50 L723.78 392.01 L724.79 392.53 L725.80 393.04 L726.80 393.55 L727.81 394.06 L728.82 394.56 L729.83 395.06 L730.83 395.56 L731.84 396.05 L732.85 396.55 L733.86 397.03 L734.86 397.52 L735.87 398.00 L736.88 398.48 L737.88 398.96 L738.89 399.43 L739.90 399.90 L740.91 400.37 L741.91 400.83 L742.92 401.29 L743.93 401.75 L744.94 402.20 L745.94 402.66 L746.95 403.10 L747.96 403.55 L748.97 403.99 L749.97 404.43 L750.98 404.87 L751.99 405.30 L752.99 405.73 L754.00 406.15 L755.01 406.58 L756.02 407.00 L757.02 407.41 L758.03 407.83 L759.04 408.24 L760.05 408.64 L761.05 409.05 L762.06 409.45 L763.07 409.84 L764.08 410.24 L765.08 410.63 L766.09 411.01 L767.10 411.40 L768.10 411.78 L769.11 412.16 L770.12 412.53 L771.13 412.90 L772.13 413.27 L773.14 413.63 L774.15 413.99 L775.16 414.35 L776.16 414.70 L777.17 415.06" stroke="#0000ff" stroke-width="8" stroke-dasharray="2.1 5.4" stroke-dashoffset="0"/>
</g>
<rect x="108.60" y="17.00" width="682.50" height="421.30" fill="none" stroke="#000" stroke-width="4.6"/>
<path d="M122.40 19.30 v5.70 M122.40 436.00 v-5.70 M147.58 19.30 v2.60 M147.58 436.00 v-2.60 M172.77 19.30 v2.60 M172.77 436.00 v-2.60 M197.95 19.30 v2.60 M197.95 436.00 v-2.60 M223.13 19.30 v5.70 M223.13 436.00 v-5.70 M248.32 19.30 v2.60 M248.32 436.00 v-2.60 M273.50 19.30 v2.60 M273.50 436.00 v-2.60 M298.68 19.30 v2.60 M298.68 436.00 v-2.60 M323.87 19.30 v5.70 M323.87 436.00 v-5.70 M349.05 19.30 v2.60 M349.05 436.00 v-2.60 M374.24 19.30 v2.60 M374.24 436.00 v-2.60 M399.42 19.30 v2.60 M399.42 436.00 v-2.60 M424.60 19.30 v5.70 M424.60 436.00 v-5.70 M449.79 19.30 v2.60 M449.79 436.00 v-2.60 M474.97 19.30 v2.60 M474.97 436.00 v-2.60 M500.15 19.30 v2.60 M500.15 436.00 v-2.60 M525.34 19.30 v5.70 M525.34 436.00 v-5.70 M550.52 19.30 v2.60 M550.52 436.00 v-2.60 M575.70 19.30 v2.60 M575.70 436.00 v-2.60 M600.89 19.30 v2.60 M600.89 436.00 v-2.60 M626.07 19.30 v5.70 M626.07 436.00 v-5.70 M651.25 19.30 v2.60 M651.25 436.00 v-2.60 M676.44 19.30 v2.60 M676.44 436.00 v-2.60 M701.62 19.30 v2.60 M701.62 436.00 v-2.60 M726.80 19.30 v5.70 M726.80 436.00 v-5.70 M751.99 19.30 v2.60 M751.99 436.00 v-2.60 M777.17 19.30 v2.60 M777.17 436.00 v-2.60 M110.90 438.30 h5.70 M788.80 438.30 h-5.70 M110.90 417.24 h2.90 M788.80 417.24 h-2.90 M110.90 396.17 h2.90 M788.80 396.17 h-2.90 M110.90 375.11 h2.90 M788.80 375.11 h-2.90 M110.90 354.04 h5.70 M788.80 354.04 h-5.70 M110.90 332.98 h2.90 M788.80 332.98 h-2.90 M110.90 311.91 h2.90 M788.80 311.91 h-2.90 M110.90 290.85 h2.90 M788.80 290.85 h-2.90 M110.90 269.78 h5.70 M788.80 269.78 h-5.70 M110.90 248.72 h2.90 M788.80 248.72 h-2.90 M110.90 227.65 h2.90 M788.80 227.65 h-2.90 M110.90 206.58 h2.90 M788.80 206.58 h-2.90 M110.90 185.52 h5.70 M788.80 185.52 h-5.70 M110.90 164.45 h2.90 M788.80 164.45 h-2.90 M110.90 143.39 h2.90 M788.80 143.39 h-2.90 M110.90 122.32 h2.90 M788.80 122.32 h-2.90 M110.90 101.26 h5.70 M788.80 101.26 h-5.70 M110.90 80.19 h2.90 M788.80 80.19 h-2.90 M110.90 59.13 h2.90 M788.80 59.13 h-2.90 M110.90 38.06 h2.90 M788.80 38.06 h-2.90 M110.90 17.00 h5.70 M788.80 17.00 h-5.70" stroke="#000" stroke-width="4.6" fill="none"/>
<text transform="translate(113.37,473.80) scale(1.035,1.135)" font-size="30">0</text>
<text transform="translate(196.83,473.80) scale(1.035,1.135)" font-size="30">200</text>
<text transform="translate(297.57,473.80) scale(1.035,1.135)" font-size="30">400</text>
<text transform="translate(398.30,473.80) scale(1.035,1.135)" font-size="30">600</text>
<text transform="translate(499.03,473.80) scale(1.035,1.135)" font-size="30">800</text>
<path transform="translate(591.13,473.80) scale(0.01516,-0.01663)" d="M585 0V1237L267 1010V1180L600 1409H766V0Z"/><text transform="translate(608.40,473.80) scale(1.035,1.135)" font-size="30">000</text>
<path transform="translate(691.87,473.80) scale(0.01516,-0.01663)" d="M585 0V1237L267 1010V1180L600 1409H766V0Z"/><text transform="translate(709.14,473.80) scale(1.035,1.135)" font-size="30">200</text>
<text transform="translate(59.67,449.70) scale(1.015,1.135)" font-size="30">0.0</text>
<text transform="translate(59.67,365.44) scale(1.015,1.135)" font-size="30">0.2</text>
<text transform="translate(59.67,281.18) scale(1.015,1.135)" font-size="30">0.4</text>
<text transform="translate(59.67,196.92) scale(1.015,1.135)" font-size="30">0.6</text>
<text transform="translate(59.67,112.66) scale(1.015,1.135)" font-size="30">0.8</text>
<path transform="translate(59.67,28.40) scale(0.01487,-0.01663)" d="M585 0V1237L267 1010V1180L600 1409H766V0Z"/><text transform="translate(76.61,28.40) scale(1.015,1.135)" font-size="30">.0</text>
<text transform="translate(450.00,523.00) scale(1.000,1.040)" font-size="30" text-anchor="middle" font-weight="bold">L [km]</text>
<g transform="translate(30.2,294.2) rotate(-90)">
<text transform="translate(-2.30,0.00) scale(1.050,1.130)" font-size="30" font-weight="bold">P</text>
<text transform="translate(19.00,0.00) scale(1.000,1.100)" font-size="30" font-weight="bold">(</text>
<text transform="translate(33.40,0.00) scale(1.060,1.100)" font-size="30" font-weight="bold">v</text>
<text transform="translate(51.00,7.00) scale(1.000,1.100)" font-size="21" font-weight="bold" font-style="italic">μ</text>
<path d="M66.7 -7.8 H86 M79.4 -14.9 L86.4 -7.8 L79.4 -0.7" stroke="#000" stroke-width="4.2" fill="none" stroke-linejoin="miter"/>
<text transform="translate(92.80,0.00) scale(1.060,1.100)" font-size="30" font-weight="bold">v</text>
<text transform="translate(110.40,7.00) scale(1.000,1.100)" font-size="21" font-weight="bold" font-style="italic">μ</text>
<text transform="translate(125.10,0.00) scale(1.000,1.100)" font-size="30" font-weight="bold">)</text>
</g>
<path d="M152 336.2 H235.3" stroke="#800080" stroke-width="5.5" stroke-linecap="square"/>
<path d="M151.8 384.8 h30.2 m14.7 0 h30.3" stroke="#00ff00" stroke-width="5.6"/>
<path d="M381.8 336.1 h30.4 m14.7 0 h7.9 m14.5 0 h16.5" stroke="#ff0000" stroke-width="5.6"/>
<path d="M383.3 384.8 H464.2" stroke="#0000ff" stroke-width="8" stroke-dasharray="2.4 5.57"/>
<text transform="translate(251.70,343.90) scale(1.000,1.070)" font-size="26">SO</text>
<text transform="translate(289.27,345.50) scale(1.000,1.070)" font-size="26">+</text>
<text transform="translate(311.68,343.90) scale(1.000,1.070)" font-size="26">NO</text>
<text transform="translate(481.80,343.90) scale(1.000,1.070)" font-size="26">SO</text>
<text transform="translate(519.37,345.50) scale(1.000,1.070)" font-size="26">+</text>
<text transform="translate(541.78,343.90) scale(1.000,1.070)" font-size="26">IO</text>
<text transform="translate(251.50,392.00) scale(1.110,1.000)" font-size="26" font-style="italic">ϵ</text>
<text transform="translate(263.50,397.20) scale(1.000,1.000)" font-size="19">e</text>
<text transform="translate(276.30,397.20) scale(1.000,1.000)" font-size="19" font-style="italic">τ</text>
<text transform="translate(284.90,393.90) scale(1.000,1.070)" font-size="26">+</text>
<text transform="translate(307.50,392.30) scale(1.000,1.070)" font-size="26">NO</text>
<text transform="translate(482.50,392.00) scale(1.110,1.000)" font-size="26" font-style="italic">ϵ</text>
<text transform="translate(494.50,397.20) scale(1.000,1.000)" font-size="19">e</text>
<text transform="translate(507.30,397.20) scale(1.000,1.000)" font-size="19" font-style="italic">τ</text>
<text transform="translate(515.90,393.90) scale(1.000,1.070)" font-size="26">+</text>
<text transform="translate(538.50,392.30) scale(1.000,1.070)" font-size="26">IO</text>
<path d="M525.56 50.50 V228.30 M580.82 50.50 V228.30 M636.08 50.50 V228.30 M691.34 50.50 V228.30 M464.50 212.90 H752.20 M464.50 173.05 H752.20 M464.50 133.20 H752.20 M464.50 93.35 H752.20" stroke="#d0d0d0" stroke-width="0.7" fill="none"/>
<g clip-path="url(#ci)" fill="none">
<path d="M470.30 134.24 L473.06 135.18 L475.83 136.12 L478.59 137.06 L481.35 137.99 L484.12 138.92 L486.88 139.86 L489.64 140.78 L492.40 141.71 L495.17 142.63 L497.93 143.56 L500.69 144.48 L503.46 145.40 L506.22 146.31 L508.98 147.23 L511.75 148.14 L514.51 149.05 L517.27 149.96 L520.03 150.86 L522.80 151.77 L525.56 152.67 L528.32 153.57 L531.09 154.47 L533.85 155.36 L536.61 156.26 L539.38 157.15 L542.14 158.04 L544.90 158.92 L547.66 159.81 L550.43 160.69 L553.19 161.58 L555.95 162.45 L558.72 163.33 L561.48 164.21 L564.24 165.08 L567.00 165.95 L569.77 166.82 L572.53 167.69 L575.29 168.55 L578.06 169.42 L580.82 170.28 L583.58 171.14 L586.35 171.99 L589.11 172.85 L591.87 173.70 L594.63 174.55 L597.40 175.40 L600.16 176.24 L602.92 177.09 L605.69 177.93 L608.45 178.77 L611.21 179.61 L613.98 180.45 L616.74 181.28 L619.50 182.11 L622.26 182.94 L625.03 183.77 L627.79 184.59 L630.55 185.42 L633.32 186.24 L636.08 187.06 L638.84 187.88 L641.61 188.69 L644.37 189.50 L647.13 190.32 L649.89 191.12 L652.66 191.93 L655.42 192.74 L658.18 193.54 L660.95 194.34 L663.71 195.14 L666.47 195.93 L669.24 196.73 L672.00 197.52 L674.76 198.31 L677.52 199.10 L680.29 199.88 L683.05 200.67 L685.81 201.45 L688.58 202.23 L691.34 203.01 L694.10 203.78 L696.87 204.56 L699.63 205.33 L702.39 206.10 L705.15 206.86 L707.92 207.63 L710.68 208.39 L713.44 209.15 L716.21 209.91 L718.97 210.67 L721.73 211.42 L724.50 212.17 L727.26 212.92 L730.02 213.67 L732.79 214.42 L735.55 215.16 L738.31 215.90 L741.07 216.64 L743.84 217.38 L746.60 218.11" stroke="#800080" stroke-width="5.6" stroke-linecap="square"/>
<path d="M470.30 134.24 L473.06 135.19 L475.83 136.14 L478.59 137.09 L481.35 138.04 L484.12 138.98 L486.88 139.93 L489.64 140.87 L492.40 141.81 L495.17 142.74 L497.93 143.68 L500.69 144.61 L503.46 145.54 L506.22 146.47 L508.98 147.39 L511.75 148.32 L514.51 149.24 L517.27 150.16 L520.03 151.08 L522.80 151.99 L525.56 152.91 L528.32 153.82 L531.09 154.73 L533.85 155.64 L536.61 156.54 L539.38 157.45 L542.14 158.35 L544.90 159.25 L547.66 160.15 L550.43 161.04 L553.19 161.94 L555.95 162.83 L558.72 163.72 L561.48 164.60 L564.24 165.49 L567.00 166.37 L569.77 167.25 L572.53 168.13 L575.29 169.01 L578.06 169.88 L580.82 170.76 L583.58 171.63 L586.35 172.50 L589.11 173.36 L591.87 174.23 L594.63 175.09 L597.40 175.95 L600.16 176.81 L602.92 177.67 L605.69 178.52 L608.45 179.37 L611.21 180.22 L613.98 181.07 L616.74 181.92 L619.50 182.76 L622.26 183.60 L625.03 184.44 L627.79 185.28 L630.55 186.11 L633.32 186.95 L636.08 187.78 L638.84 188.61 L641.61 189.44 L644.37 190.26 L647.13 191.08 L649.89 191.90 L652.66 192.72 L655.42 193.54 L658.18 194.35 L660.95 195.17 L663.71 195.98 L666.47 196.79 L669.24 197.59 L672.00 198.40 L674.76 199.20 L677.52 200.00 L680.29 200.80 L683.05 201.59 L685.81 202.39 L688.58 203.18 L691.34 203.97 L694.10 204.75 L696.87 205.54 L699.63 206.32 L702.39 207.10 L705.15 207.88 L707.92 208.66 L710.68 209.44 L713.44 210.21 L716.21 210.98 L718.97 211.75 L721.73 212.51 L724.50 213.28 L727.26 214.04 L730.02 214.80 L732.79 215.56 L735.55 216.31 L738.31 217.07 L741.07 217.82 L743.84 218.57 L746.60 219.31" stroke="#00ff00" stroke-width="5.5" stroke-dasharray="11.9 5.1"/>
<path d="M470.30 59.34 L473.06 60.38 L475.83 61.42 L478.59 62.46 L481.35 63.50 L484.12 64.53 L486.88 65.56 L489.64 66.59 L492.40 67.62 L495.17 68.64 L497.93 69.67 L500.69 70.69 L503.46 71.71 L506.22 72.73 L508.98 73.74 L511.75 74.76 L514.51 75.77 L517.27 76.78 L520.03 77.79 L522.80 78.80 L525.56 79.80 L528.32 80.81 L531.09 81.81 L533.85 82.81 L536.61 83.80 L539.38 84.80 L542.14 85.79 L544.90 86.78 L547.66 87.77 L550.43 88.76 L553.19 89.75 L555.95 90.73 L558.72 91.71 L561.48 92.69 L564.24 93.67 L567.00 94.65 L569.77 95.62 L572.53 96.59 L575.29 97.56 L578.06 98.53 L580.82 99.50 L583.58 100.46 L586.35 101.43 L589.11 102.39 L591.87 103.35 L594.63 104.30 L597.40 105.26 L600.16 106.21 L602.92 107.16 L605.69 108.11 L608.45 109.06 L611.21 110.01 L613.98 110.95 L616.74 111.89 L619.50 112.83 L622.26 113.77 L625.03 114.70 L627.79 115.64 L630.55 116.57 L633.32 117.50 L636.08 118.43 L638.84 119.35 L641.61 120.28 L644.37 121.20 L647.13 122.12 L649.89 123.04 L652.66 123.95 L655.42 124.87 L658.18 125.78 L660.95 126.69 L663.71 127.60 L666.47 128.50 L669.24 129.41 L672.00 130.31 L674.76 131.21 L677.52 132.11 L680.29 133.01 L683.05 133.90 L685.81 134.79 L688.58 135.69 L691.34 136.57 L694.10 137.46 L696.87 138.35 L699.63 139.23 L702.39 140.11 L705.15 140.99 L707.92 141.87 L710.68 142.74 L713.44 143.61 L716.21 144.48 L718.97 145.35 L721.73 146.22 L724.50 147.09 L727.26 147.95 L730.02 148.81 L732.79 149.67 L735.55 150.53 L738.31 151.38 L741.07 152.24 L743.84 153.09 L746.60 153.94" stroke="#ff0000" stroke-width="4.4" stroke-dasharray="13.8 4 4 4.1"/>
<path d="M470.30 59.34 L473.06 60.38 L475.83 61.42 L478.59 62.46 L481.35 63.50 L484.12 64.53 L486.88 65.56 L489.64 66.59 L492.40 67.62 L495.17 68.64 L497.93 69.67 L500.69 70.69 L503.46 71.71 L506.22 72.73 L508.98 73.74 L511.75 74.76 L514.51 75.77 L517.27 76.78 L520.03 77.79 L522.80 78.80 L525.56 79.80 L528.32 80.81 L531.09 81.81 L533.85 82.81 L536.61 83.80 L539.38 84.80 L542.14 85.79 L544.90 86.78 L547.66 87.77 L550.43 88.76 L553.19 89.75 L555.95 90.73 L558.72 91.71 L561.48 92.69 L564.24 93.67 L567.00 94.65 L569.77 95.62 L572.53 96.59 L575.29 97.56 L578.06 98.53 L580.82 99.50 L583.58 100.46 L586.35 101.43 L589.11 102.39 L591.87 103.35 L594.63 104.30 L597.40 105.26 L600.16 106.21 L602.92 107.16 L605.69 108.11 L608.45 109.06 L611.21 110.01 L613.98 110.95 L616.74 111.89 L619.50 112.83 L622.26 113.77 L625.03 114.70 L627.79 115.64 L630.55 116.57 L633.32 117.50 L636.08 118.43 L638.84 119.35 L641.61 120.28 L644.37 121.20 L647.13 122.12 L649.89 123.04 L652.66 123.95 L655.42 124.87 L658.18 125.78 L660.95 126.69 L663.71 127.60 L666.47 128.50 L669.24 129.41 L672.00 130.31 L674.76 131.21 L677.52 132.11 L680.29 133.01 L683.05 133.90 L685.81 134.79 L688.58 135.69 L691.34 136.57 L694.10 137.46 L696.87 138.35 L699.63 139.23 L702.39 140.11 L705.15 140.99 L707.92 141.87 L710.68 142.74 L713.44 143.61 L716.21 144.48 L718.97 145.35 L721.73 146.22 L724.50 147.09 L727.26 147.95 L730.02 148.81 L732.79 149.67 L735.55 150.53 L738.31 151.38 L741.07 152.24 L743.84 153.09 L746.60 153.94" stroke="#0000ff" stroke-width="8.4" stroke-dasharray="1.2 2.05"/>
</g>
<rect x="464.50" y="50.50" width="287.70" height="177.80" fill="none" stroke="#666" stroke-width="1.25"/>
<path d="M470.30 50.50 v4.80 M470.30 228.30 v-4.80 M481.35 50.50 v2.90 M481.35 228.30 v-2.90 M492.40 50.50 v2.90 M492.40 228.30 v-2.90 M503.46 50.50 v2.90 M503.46 228.30 v-2.90 M514.51 50.50 v2.90 M514.51 228.30 v-2.90 M525.56 50.50 v4.80 M525.56 228.30 v-4.80 M536.61 50.50 v2.90 M536.61 228.30 v-2.90 M547.66 50.50 v2.90 M547.66 228.30 v-2.90 M558.72 50.50 v2.90 M558.72 228.30 v-2.90 M569.77 50.50 v2.90 M569.77 228.30 v-2.90 M580.82 50.50 v4.80 M580.82 228.30 v-4.80 M591.87 50.50 v2.90 M591.87 228.30 v-2.90 M602.92 50.50 v2.90 M602.92 228.30 v-2.90 M613.98 50.50 v2.90 M613.98 228.30 v-2.90 M625.03 50.50 v2.90 M625.03 228.30 v-2.90 M636.08 50.50 v4.80 M636.08 228.30 v-4.80 M647.13 50.50 v2.90 M647.13 228.30 v-2.90 M658.18 50.50 v2.90 M658.18 228.30 v-2.90 M669.24 50.50 v2.90 M669.24 228.30 v-2.90 M680.29 50.50 v2.90 M680.29 228.30 v-2.90 M691.34 50.50 v4.80 M691.34 228.30 v-4.80 M702.39 50.50 v2.90 M702.39 228.30 v-2.90 M713.44 50.50 v2.90 M713.44 228.30 v-2.90 M724.50 50.50 v2.90 M724.50 228.30 v-2.90 M735.55 50.50 v2.90 M735.55 228.30 v-2.90 M746.60 50.50 v4.80 M746.60 228.30 v-4.80 M464.50 220.87 h2.90 M752.20 220.87 h-2.90 M464.50 212.90 h4.80 M752.20 212.90 h-4.80 M464.50 204.93 h2.90 M752.20 204.93 h-2.90 M464.50 196.96 h2.90 M752.20 196.96 h-2.90 M464.50 188.99 h2.90 M752.20 188.99 h-2.90 M464.50 181.02 h2.90 M752.20 181.02 h-2.90 M464.50 173.05 h4.80 M752.20 173.05 h-4.80 M464.50 165.08 h2.90 M752.20 165.08 h-2.90 M464.50 157.11 h2.90 M752.20 157.11 h-2.90 M464.50 149.14 h2.90 M752.20 149.14 h-2.90 M464.50 141.17 h2.90 M752.20 141.17 h-2.90 M464.50 133.20 h4.80 M752.20 133.20 h-4.80 M464.50 125.23 h2.90 M752.20 125.23 h-2.90 M464.50 117.26 h2.90 M752.20 117.26 h-2.90 M464.50 109.29 h2.90 M752.20 109.29 h-2.90 M464.50 101.32 h2.90 M752.20 101.32 h-2.90 M464.50 93.35 h4.80 M752.20 93.35 h-4.80 M464.50 85.38 h2.90 M752.20 85.38 h-2.90 M464.50 77.41 h2.90 M752.20 77.41 h-2.90 M464.50 69.44 h2.90 M752.20 69.44 h-2.90 M464.50 61.47 h2.90 M752.20 61.47 h-2.90 M464.50 53.50 h4.80 M752.20 53.50 h-4.80" stroke="#666" stroke-width="1.2" fill="none"/>
<path transform="translate(446.87,254.70) scale(0.01055,-0.01192)" d="M585 0V1237L267 1010V1180L600 1409H766V0Z" fill="#666"/><text transform="translate(458.89,254.70) scale(1.000,1.130)" font-size="21.6" fill="#666">250</text>
<path transform="translate(502.13,254.70) scale(0.01055,-0.01192)" d="M585 0V1237L267 1010V1180L600 1409H766V0Z" fill="#666"/><text transform="translate(514.15,254.70) scale(1.000,1.130)" font-size="21.6" fill="#666">260</text>
<path transform="translate(557.39,254.70) scale(0.01055,-0.01192)" d="M585 0V1237L267 1010V1180L600 1409H766V0Z" fill="#666"/><text transform="translate(569.41,254.70) scale(1.000,1.130)" font-size="21.6" fill="#666">270</text>
<path transform="translate(612.65,254.70) scale(0.01055,-0.01192)" d="M585 0V1237L267 1010V1180L600 1409H766V0Z" fill="#666"/><text transform="translate(624.67,254.70) scale(1.000,1.130)" font-size="21.6" fill="#666">280</text>
<path transform="translate(667.91,254.70) scale(0.01055,-0.01192)" d="M585 0V1237L267 1010V1180L600 1409H766V0Z" fill="#666"/><text transform="translate(679.93,254.70) scale(1.000,1.130)" font-size="21.6" fill="#666">290</text>
<path transform="translate(723.17,254.70) scale(0.01055,-0.01192)" d="M585 0V1237L267 1010V1180L600 1409H766V0Z" fill="#666"/><text transform="translate(735.19,254.70) scale(1.000,1.130)" font-size="21.6" fill="#666">300</text>
<text transform="translate(458.00,220.90) scale(1.000,1.060)" font-size="21.8" text-anchor="end" fill="#666">0.04</text>
<text transform="translate(458.00,181.05) scale(1.000,1.060)" font-size="21.8" text-anchor="end" fill="#666">0.05</text>
<text transform="translate(458.00,141.20) scale(1.000,1.060)" font-size="21.8" text-anchor="end" fill="#666">0.06</text>
<text transform="translate(458.00,101.35) scale(1.000,1.060)" font-size="21.8" text-anchor="end" fill="#666">0.07</text>
<text transform="translate(458.00,61.50) scale(1.000,1.060)" font-size="21.8" text-anchor="end" fill="#666">0.08</text>
<text transform="translate(608.20,290.40) scale(1.000,1.030)" font-size="17" text-anchor="middle" font-weight="bold" fill="#777">L [km]</text>
<g transform="translate(390.2,176.6) rotate(-90)" fill="#777">
<text transform="translate(-1.25,0.00) scale(1.000,1.100)" font-size="17" font-weight="bold">P</text>
<text transform="translate(10.77,0.00) scale(1.000,1.100)" font-size="17" font-weight="bold">(</text>
<text transform="translate(19.04,0.00) scale(1.000,1.100)" font-size="17" font-weight="bold">v</text>
<text transform="translate(28.90,3.97) scale(1.000,1.100)" font-size="12" font-weight="bold" font-style="italic">μ</text>
<path d="M37.80 -4.42 H48.73 M44.99 -8.44 L48.96 -4.42 L44.99 -0.40" stroke="#777" stroke-width="2.4" fill="none"/>
<text transform="translate(52.70,0.00) scale(1.000,1.100)" font-size="17" font-weight="bold">v</text>
<text transform="translate(62.56,3.97) scale(1.000,1.100)" font-size="12" font-weight="bold" font-style="italic">μ</text>
<text transform="translate(70.44,0.00) scale(1.000,1.100)" font-size="17" font-weight="bold">)</text>
</g>
</svg></body></html>
